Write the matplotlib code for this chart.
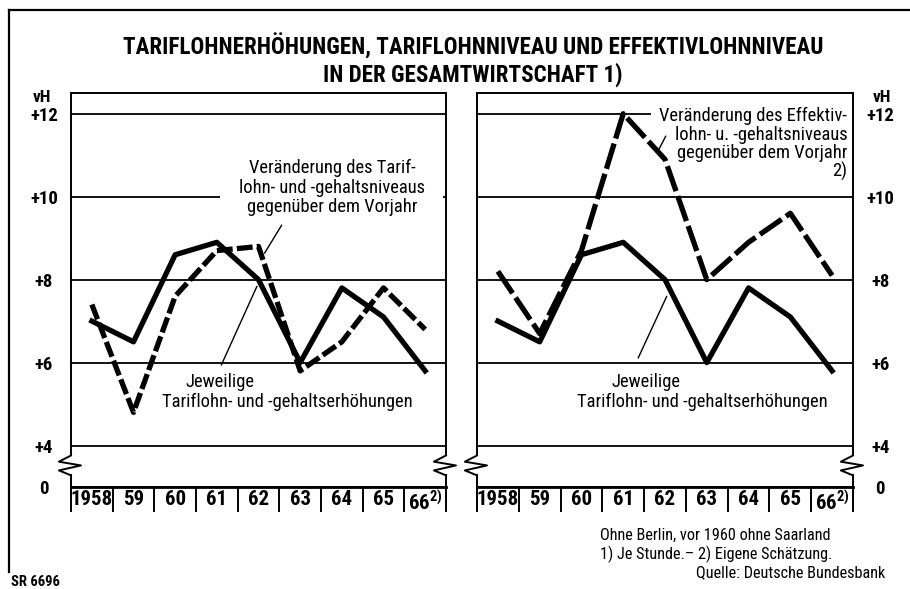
import numpy as np
import matplotlib
matplotlib.use('Agg')
import matplotlib.pyplot as plt
from matplotlib.lines import Line2D
from matplotlib import font_manager

# schmale Schrift suchen, sonst Roboto
vorhanden = {f.name for f in font_manager.fontManager.ttflist}
kandidaten = ['Liberation Sans Narrow', 'DejaVu Sans Condensed', 'Roboto Condensed', 'Roboto']
schrift = [k for k in kandidaten if k in vorhanden][:1] + ['DejaVu Sans']
plt.rcParams['font.family'] = schrift
plt.rcParams['mathtext.default'] = 'regular'
if 'DejaVu Sans' in vorhanden and schrift[0] == 'DejaVu Sans':
    plt.rcParams['font.stretch'] = 'condensed'

# Daten (vH gegenüber Vorjahr)
jahre = ['1958', '59', '60', '61', '62', '63', '64', '65', '66$^{2)}$']
tarif_erhoehung = [7.0, 6.5, 8.6, 8.9, 8.0, 6.0, 7.8, 7.1, 5.8]
tarif_niveau = [7.4, 4.8, 7.6, 8.7, 8.8, 5.8, 6.5, 7.8, 6.8]
effektiv_niveau = [8.2, 6.7, 8.7, 12.0, 10.9, 8.0, 8.9, 9.6, 8.1]

# Achse unterbrochen: 0 wird unterhalb von +4 dargestellt
ytick_pos = [3, 4, 6, 8, 10, 12]
ytick_lab = ['0', '+4', '+6', '+8', '+10', '+12']

W, H = 910, 589
fig = plt.figure(figsize=(W / 100, H / 100), dpi=100)


def px(x0, y0, w, h):
    return [x0 / W, 1 - (y0 + h) / H, w / W, h / H]


ax1 = fig.add_axes(px(71, 93, 375, 394))
ax2 = fig.add_axes(px(477, 93, 376, 394))

x = np.arange(len(jahre))


def panel(ax, dashed, dash, right=False):
    ax.set_xlim(-0.5, len(jahre) - 0.5)
    ax.set_ylim(3, 12.5)
    ax.set_axisbelow(True)
    ax.set_yticks(ytick_pos)
    ax.set_yticklabels(ytick_lab, fontsize=13.5, fontweight='bold')
    ax.yaxis.grid(True, color='black', lw=1.3)
    ax.tick_params(axis='y', length=0, pad=19.5)
    if right:
        ax.yaxis.tick_right()
    for lab in ax.get_yticklabels():
        lab.set_ha('center')
    # Jahreszellen
    ax.set_xticks(np.arange(-0.5, len(jahre)), labels=[''] * (len(jahre) + 1))
    ax.set_xticks(x, minor=True)
    ax.set_xticklabels(jahre, minor=True, fontsize=15, fontweight='bold')
    ax.tick_params(axis='x', which='major', length=18, width=1.4, direction='out')
    ax.tick_params(axis='x', which='minor', length=0, pad=2.5)
    for s in ['left', 'right']:
        ax.spines[s].set_visible(False)
    ax.spines['top'].set_linewidth(1.4)
    ax.spines['bottom'].set_linewidth(2)

    # Seitenlinien mit Bruchzeichen
    zy = [3.76, 3.61, 3.52, 3.40, 3.28]
    zx = [0, -0.29, 0.24, -0.29, 0]
    for xe in (-0.5, len(jahre) - 0.5):
        ax.plot([xe, xe], [3.76, 12.5], color='black', lw=1.4, clip_on=False)
        ax.plot([xe, xe], [3.0, 3.28], color='black', lw=1.4, clip_on=False)
        ax.plot([xe + d for d in zx], zy, color='black', lw=1.4, clip_on=False)

    ax.plot(x, tarif_erhoehung, color='black', lw=3.8, zorder=3)
    ax.plot(x, dashed, color='black', lw=3.8, dashes=dash, zorder=3)


panel(ax1, tarif_niveau, (3, 0.8))
panel(ax2, effektiv_niveau, (5, 1.0), right=True)

fs = 13.3

# Beschriftungen links
ax1.text(5.76, 10.22, 'Veränderung des Tarif-\nlohn- und -gehaltsniveaus\ngegenüber dem Vorjahr',
         ha='center', va='center', fontsize=fs, linespacing=1.1, zorder=1.5,
         bbox=dict(boxstyle='square,pad=1.0', fc='white', ec='none'))
ax1.annotate('', xy=(4.11, 8.58), xytext=(4.59, 9.37),
             arrowprops=dict(arrowstyle='-', lw=1, color='black'))
ax1.text(3.08, 5.52, 'Jeweilige', ha='center', va='center', fontsize=fs)
ax1.text(4.68, 5.04, 'Tariflohn- und -gehaltserhöhungen', ha='center', va='center', fontsize=fs)
ax1.annotate('', xy=(3.99, 7.9), xytext=(3.08, 5.88),
             arrowprops=dict(arrowstyle='-', lw=1, color='black'))

# Beschriftungen rechts
ax2.text(8.36, 11.95, 'Veränderung des Effektiv-', ha='right', va='center', fontsize=fs,
         zorder=1.5, bbox=dict(boxstyle='square,pad=0.45', fc='white', ec='none'))
ax2.text(8.36, 11.04, 'lohn- u. -gehaltsniveaus\ngegenüber dem Vorjahr\n2)',
         ha='right', va='center', fontsize=fs, linespacing=1.0, multialignment='right')
ax2.annotate('', xy=(3.81, 11.06), xytext=(4.05, 11.52),
             arrowprops=dict(arrowstyle='-', lw=1, color='black'))
ax2.text(3.55, 5.52, 'Jeweilige', ha='center', va='center', fontsize=fs)
ax2.text(4.89, 5.04, 'Tariflohn- und -gehaltserhöhungen', ha='center', va='center', fontsize=fs)
ax2.annotate('', xy=(4.07, 7.66), xytext=(3.33, 6.05),
             arrowprops=dict(arrowstyle='-', lw=1, color='black'))

# Titel und Texte
fig.text(473 / W, 1 - 47 / H, 'TARIFLOHNERHÖHUNGEN, TARIFLOHNNIVEAU UND EFFEKTIVLOHNNIVEAU',
         ha='center', va='center', fontsize=16.6, fontweight='bold')
fig.text(473 / W, 1 - 75 / H, 'IN DER GESAMTWIRTSCHAFT 1)',
         ha='center', va='center', fontsize=16.6, fontweight='bold')
fig.text(42 / W, 1 - 98 / H, 'vH', ha='center', va='center', fontsize=12.5, fontweight='bold')
fig.text(882 / W, 1 - 98 / H, 'vH', ha='center', va='center', fontsize=12.5, fontweight='bold')

fig.text(600 / W, 1 - 535 / H, 'Ohne Berlin, vor 1960 ohne Saarland',
         ha='left', va='center', fontsize=11.7)
fig.text(600 / W, 1 - 554 / H, '1) Je Stunde.– 2) Eigene Schätzung.',
         ha='left', va='center', fontsize=11.7)
fig.text(885 / W, 1 - 573 / H, 'Quelle: Deutsche Bundesbank',
         ha='right', va='center', fontsize=11.7)
fig.text(11 / W, 1 - 582 / H, 'SR 6696', ha='left', va='center', fontsize=10.5, fontweight='bold')

# Rahmen
fig.add_artist(Line2D([9 / W, 9 / W], [1 - 10 / H, 1 - 572 / H], color='black', lw=1.6))
fig.add_artist(Line2D([9 / W, 1.0], [1 - 10 / H, 1 - 10 / H], color='black', lw=1.6))

fig.savefig('out.png', dpi=100)
